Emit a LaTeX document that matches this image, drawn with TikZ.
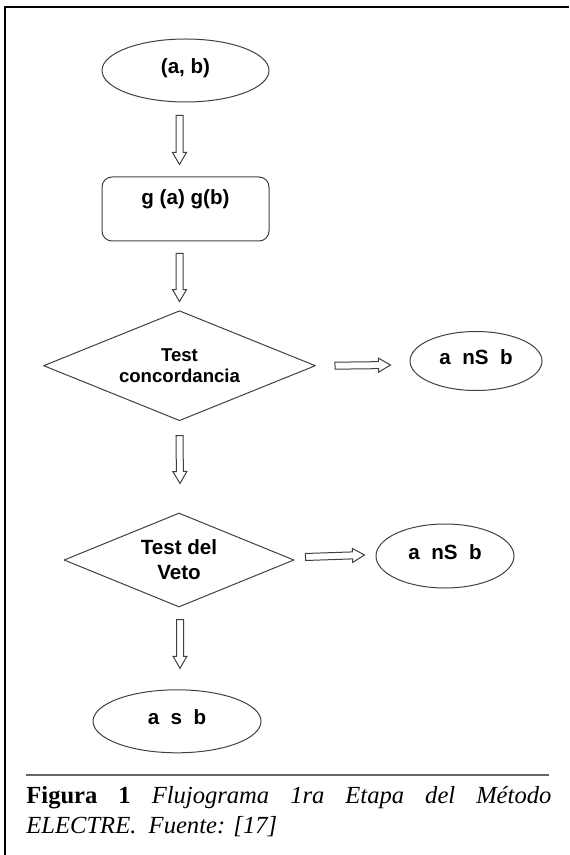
\documentclass[tikz,border=0pt]{standalone}
\usepackage{fontspec}
\setmainfont{Liberation Serif}
\newfontfamily\arialfont{Liberation Sans}
\usetikzlibrary{calc}
\usetikzlibrary{shapes.geometric}

\begin{document}
\begin{tikzpicture}[x=0.5pt, y=-0.5pt, line join=round,
    outline/.style={draw=black!75, line width=0.5pt},
    oval/.style={outline, ellipse, inner sep=0pt, text depth=4pt,
      font=\arialfont\bfseries\fontsize{10.3}{12.5}\selectfont},
    roundbox/.style={outline, rectangle, rounded corners=5pt, inner sep=0pt,
      text depth=12pt, font=\arialfont\bfseries\fontsize{10.3}{12.5}\selectfont},
    test/.style={outline, diamond, inner sep=0pt, align=center,
      font=\arialfont\bfseries\fontsize{10.3}{12.5}\selectfont},
    blockarrow/.style={outline, fill=white, line join=miter,
      to path={
        ($(\tikztostart)!1.75pt!90:(\tikztotarget)$)
        -- ($(\tikztotarget)!6pt!(\tikztostart)!1.75pt!-90:(\tikztostart)$)
        -- ($(\tikztotarget)!6pt!(\tikztostart)!3.5pt!-90:(\tikztostart)$)
        -- (\tikztotarget)
        -- ($(\tikztotarget)!6pt!(\tikztostart)!3.5pt!90:(\tikztostart)$)
        -- ($(\tikztotarget)!6pt!(\tikztostart)!1.75pt!90:(\tikztostart)$)
        -- ($(\tikztostart)!1.75pt!-90:(\tikztotarget)$)
        -- cycle}}]

  \useasboundingbox (0,0) rectangle (569,855);

  % Frame
  \draw[line width=1pt] (5,855) -- (5,7) -- (569,7);

  %--------------------------
  % Main column
  %--------------------------
  \node[oval, minimum width=83.5pt, minimum height=31.5pt] (ab) at (185.5,70.5) {(a, b)};
  \node[roundbox, minimum width=83.5pt, minimum height=32pt] (gab) at (185.5,209) {g (a) g(b)};
  \node[test, aspect=2.47, minimum width=136pt, minimum height=55pt,
    font=\arialfont\bfseries\fontsize{9.3}{10.5}\selectfont] (conc) at (179.5,365.7) {Test\\concordancia};
  \node[test, aspect=2.45, minimum width=115pt, minimum height=47pt] (veto) at (179,560) {Test del\\Veto};
  \node[oval, minimum width=84pt, minimum height=31.5pt] (asb) at (177,721.3) {a\ \ s\ \ b};

  % Side results
  \node[oval, minimum width=66pt, minimum height=29.5pt] (nsbA) at (476,361) {a\ \ nS\ \ b};
  \node[oval, minimum width=69pt, minimum height=32pt] (nsbB) at (445,556) {a\ \ nS\ \ b};

  %--------------------------
  % Block arrows
  %--------------------------
  \draw[blockarrow] ([xshift=-3pt,yshift=-6.5pt]ab.south) to ([xshift=-3pt,yshift=6pt]gab.north);
  \draw[blockarrow] ([xshift=-3pt,yshift=-6pt]gab.south) to ([yshift=4.3pt]conc.north);
  \draw[blockarrow] ([yshift=-7.2pt]conc.south) to ([xshift=0.5pt,yshift=14.5pt]veto.north);
  \draw[blockarrow] ([xshift=0.5pt,yshift=-6pt]veto.south) to ([xshift=1.5pt,yshift=10.5pt]asb.north);
  \draw[blockarrow] ([xshift=9.5pt]conc.east) to ([xshift=-9.5pt,yshift=-2pt]nsbA.west);
  \draw[blockarrow] ([xshift=5.5pt,yshift=1.5pt]veto.east) to ([xshift=-5.5pt,yshift=0.5pt]nsbB.west);

  %--------------------------
  % Caption
  %--------------------------
  \draw[black!60, line width=0.6pt] (26,775) -- (549,775);
  \node[anchor=north west, inner sep=0pt, text width=262.5pt, align=justify,
    font=\fontsize{12.3}{15}\selectfont] (cap) at (26,786)
    {\textbf{Figura 1} \textit{Flujograma 1ra Etapa del Método\linebreak ELECTRE.\ \ Fuente: [17]}};

\end{tikzpicture}
\end{document}
